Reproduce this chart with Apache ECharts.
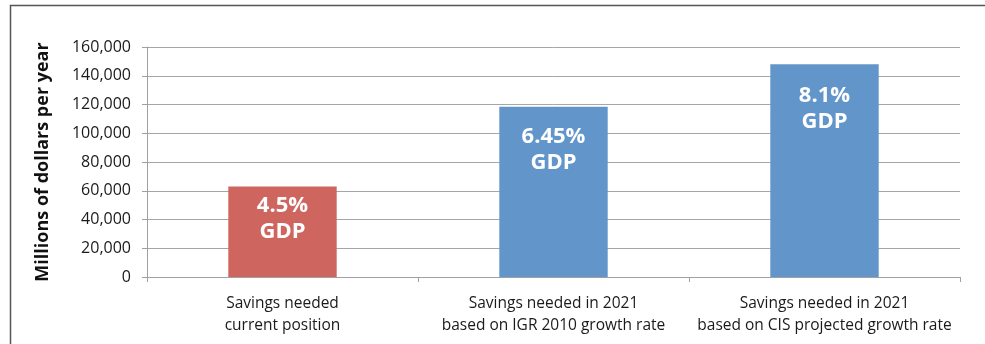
<!DOCTYPE html>
<html>
<head>
<meta charset="utf-8">
<script src="https://cdn.jsdelivr.net/npm/echarts@6/dist/echarts.min.js"></script>
<style>html,body{margin:0;padding:0;background:#fff;}#c{width:985px;height:344px;}</style>
</head>
<body>
<div id="c"></div>
<script>
var categories = ['Savings needed\ncurrent position', 'Savings needed in 2021\nbased on IGR 2010 growth rate', 'Savings needed in 2021\nbased on CIS projected growth rate'];
var values = [63000, 118500, 148000];
var barLabels = ['4.5%\nGDP', '6.45%\nGDP', '8.1%\nGDP'];
var barColors = ['#CF655F', '#6296CB', '#6296CB'];
var labelDistances = [6, 17, 18];
var yTicks = [0, 20000, 40000, 60000, 80000, 100000, 120000, 140000, 160000];
var yTitle = 'Millions of dollars per year';

var FONT = 'Open Sans';
var chart = echarts.init(document.getElementById('c'));
chart.setOption({
  animation: false,
  graphic: [{
    type: 'rect',
    shape: { x: 10.5, y: 5.5, width: 1200, height: 1200 },
    style: { fill: 'none', stroke: '#555', lineWidth: 1.5 },
    silent: true
  }],
  grid: { left: 147, right: 25, top: 47, bottom: 67, containLabel: false },
  xAxis: {
    type: 'category',
    data: categories,
    axisLine: { show: true, lineStyle: { color: '#a0a0a0', width: 1 } },
    axisTick: { show: true, length: 5, alignWithLabel: false, lineStyle: { color: '#a0a0a0' } },
    axisLabel: { color: '#1a1a1a', fontFamily: FONT, fontSize: 15.5, lineHeight: 22, margin: 16, interval: 0 }
  },
  yAxis: {
    type: 'value',
    min: yTicks[0],
    max: yTicks[yTicks.length - 1],
    interval: yTicks[1] - yTicks[0],
    name: yTitle,
    nameLocation: 'middle',
    nameGap: 95,
    nameTextStyle: { color: '#111', fontFamily: FONT, fontSize: 18, fontWeight: 'bold' },
    axisLine: { show: true, lineStyle: { color: '#a0a0a0', width: 1 } },
    axisTick: { show: true, length: 5, inside: false, lineStyle: { color: '#a0a0a0' } },
    axisLabel: {
      color: '#1a1a1a', fontFamily: FONT, fontSize: 16, margin: 16,
      formatter: function (v) { return v.toLocaleString('en-US'); }
    },
    splitLine: { show: true, lineStyle: { color: '#a6a6a6', width: 1 } }
  },
  series: [{
    type: 'bar',
    barWidth: '40%',
    data: values.map(function (v, i) {
      return {
        value: v,
        itemStyle: { color: barColors[i] },
        label: {
          show: true,
          position: 'insideTop',
          distance: labelDistances[i],
          formatter: barLabels[i],
          color: '#fff',
          fontFamily: FONT,
          fontSize: 22,
          fontWeight: 'bold',
          lineHeight: 26
        }
      };
    })
  }]
});
</script>
</body>
</html>
